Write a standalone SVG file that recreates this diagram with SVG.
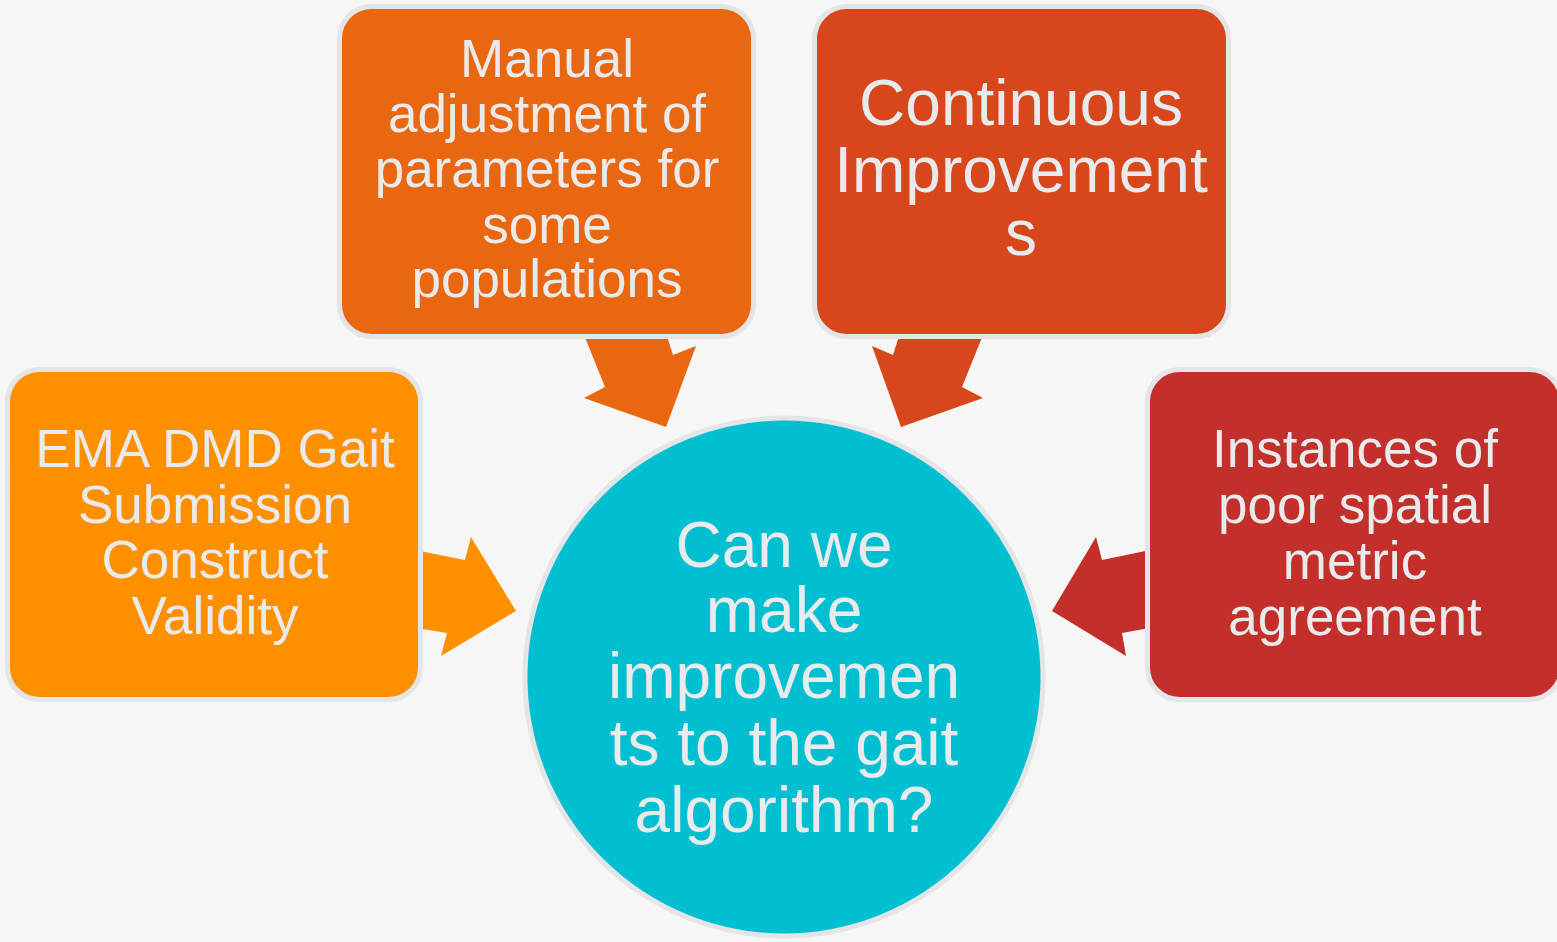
<svg xmlns="http://www.w3.org/2000/svg" width="1557" height="942" viewBox="0 0 1557 942">
  <style>
    .box { stroke: #E4E5E7; stroke-width: 5; }
    .lbl { font-family: "Liberation Sans", Arial, sans-serif; fill: #E9EAEC; text-anchor: middle; }
    .s53 { font-size: 53px; }
    .s62 { font-size: 64px; }
  </style>
  <rect x="0" y="0" width="1557" height="942" fill="#F6F6F6"/>

  <!-- block arrows pointing into the central question -->
  <g id="connectors">
    <polygon fill="#FE9000" points="410,549 465,560 471,537 516,611 441,656 447,633 410,627"/>
    <polygon fill="#EA6711" points="582,330 665,330 673,355 696,346 666,427 584,398 605,387"/>
    <polygon fill="#D8461B" points="901,330 985,330 962,387 983,398 901,427 872,346 893,355"/>
    <polygon fill="#C32F2A" points="1155,549 1102,560 1096,537 1052,611 1126,656 1122,633 1155,627"/>
  </g>

  <g id="node-ema">
    <rect class="box" x="7.5" y="369.5" width="413" height="330" rx="32" fill="#FE9000"/>
    <text class="lbl s53" x="215" y="467">EMA DMD Gait</text>
    <text class="lbl s53" x="215" y="523">Submission</text>
    <text class="lbl s53" x="215" y="578">Construct</text>
    <text class="lbl s53" x="215" y="634">Validity</text>
  </g>

  <g id="node-manual">
    <rect class="box" x="339.5" y="6.5" width="414" height="330" rx="32" fill="#EA6711"/>
    <text class="lbl s53" x="547" y="77">Manual</text>
    <text class="lbl s53" x="547" y="132">adjustment of</text>
    <text class="lbl s53" x="547" y="187">parameters for</text>
    <text class="lbl s53" x="547" y="243">some</text>
    <text class="lbl s53" x="547" y="297">populations</text>
  </g>

  <g id="node-continuous">
    <rect class="box" x="814.5" y="6.5" width="414" height="330" rx="32" fill="#D8461B"/>
    <text class="lbl s62" x="1021" y="125">Continuous</text>
    <text class="lbl s62" x="1021" y="192">Improvement</text>
    <text class="lbl s62" x="1021" y="255">s</text>
  </g>

  <g id="node-instances">
    <rect class="box" x="1147.5" y="369.5" width="414" height="330" rx="32" fill="#C32F2A"/>
    <text class="lbl s53" x="1355" y="467">Instances of</text>
    <text class="lbl s53" x="1355" y="523">poor spatial</text>
    <text class="lbl s53" x="1355" y="579">metric</text>
    <text class="lbl s53" x="1355" y="635">agreement</text>
  </g>

  <g id="node-question">
    <circle class="box" cx="784" cy="677" r="259" fill="#00BFD1"/>
    <text class="lbl s62" x="784" y="567">Can we</text>
    <text class="lbl s62" x="784" y="632">make</text>
    <text class="lbl s62" x="784" y="698">improvemen</text>
    <text class="lbl s62" x="784" y="765">ts to the gait</text>
    <text class="lbl s62" x="784" y="832">algorithm?</text>
  </g>
</svg>
